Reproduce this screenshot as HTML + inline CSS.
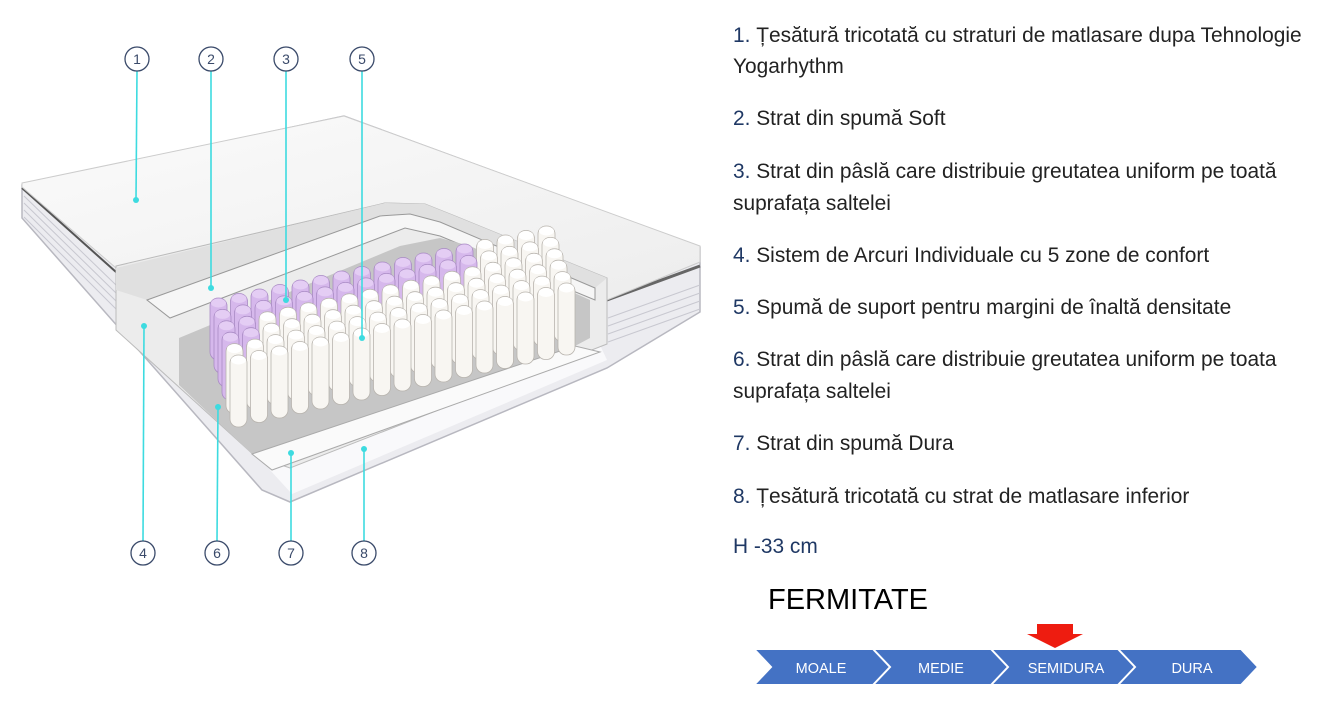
<!DOCTYPE html>
<html><head><meta charset="utf-8">
<style>
html,body{margin:0;padding:0;background:#fff;width:1327px;height:710px;overflow:hidden;position:relative;font-family:"Liberation Sans",sans-serif}
.t{position:absolute;left:733px;font-size:20.9px;color:#222;line-height:32px;white-space:nowrap}
.t b{font-weight:normal;color:#1f3864}
</style></head><body>
<svg width="720" height="600" style="position:absolute;left:0;top:0" id="sv">
<defs>
<linearGradient id="top" x1="0" y1="0" x2="1" y2="1"><stop offset="0" stop-color="#fbfbfb"/><stop offset="1" stop-color="#ededed"/></linearGradient>
</defs>
<polygon points="22,185 344,116 700,247 700,312 607,368 290,502 262,490 22,218" fill="#ececf0" stroke="#b8b8c0" stroke-width="1.5"/>
<polygon points="270,470 600,345 607,360 292,494" fill="#f9f9fb"/>
<g stroke="#c8c8d0" stroke-width="1">
<line x1="24" y1="196" x2="116" y2="285"/><line x1="24" y1="203" x2="116" y2="293"/><line x1="24" y1="210" x2="116" y2="301"/><line x1="24" y1="217" x2="116" y2="309"/>
<line x1="608" y1="318" x2="700" y2="285"/><line x1="608" y1="326" x2="700" y2="293"/><line x1="608" y1="334" x2="700" y2="301"/><line x1="608" y1="342" x2="700" y2="309"/>
</g>
<line x1="22" y1="188" x2="116" y2="272" stroke="#555" stroke-width="2"/>
<line x1="607" y1="300" x2="700" y2="266" stroke="#666" stroke-width="3"/>
<polygon points="22,183 344,116 700,246 700,262 607,300 450,215 420,204 385,203 116,268 22,187" fill="url(#top)" stroke="#ccc"/>
<polygon points="116,266 385,203 425,204 455,216 607,278 607,344 290,468 255,456 116,330" fill="#ececec" stroke="#bbb"/>
<polygon points="116,268 385,203 425,204 455,216 607,278 595,288 440,222 410,214 380,216 147,300 116,290" fill="#e0e0e0"/>
<polygon points="147,300 380,216 410,214 440,222 595,288 595,300 440,236 405,228 170,318" fill="#f6f6f6" stroke="#999" stroke-width="1"/>
<polygon points="179,338 400,246 440,238 470,246 590,300 590,338 575,346 252,454 179,385" fill="#c6c6c6"/>
<polygon points="252,454 575,346 600,352 272,470" fill="#fafafa" stroke="#aaa"/>
<g id="springs"></g>
<g stroke="#3ddbe0" stroke-width="1.6">
<line x1="137" y1="71" x2="136" y2="200"/><line x1="211" y1="71" x2="211" y2="288"/><line x1="286" y1="71" x2="286" y2="300"/><line x1="362" y1="71" x2="362" y2="338"/>
<line x1="144" y1="326" x2="143" y2="541"/><line x1="218" y1="407" x2="217" y2="541"/><line x1="291" y1="453" x2="291" y2="541"/><line x1="364" y1="449" x2="364" y2="541"/>
</g>
<g fill="#3ddbe0"><circle cx="136" cy="200" r="3"/><circle cx="211" cy="288" r="3"/><circle cx="286" cy="300" r="3"/><circle cx="362" cy="338" r="3"/><circle cx="144" cy="326" r="3"/><circle cx="218" cy="407" r="3"/><circle cx="291" cy="453" r="3"/><circle cx="364" cy="449" r="3"/></g>
<g fill="#fff" stroke="#3a4a6a" stroke-width="1.3">
<circle cx="137" cy="59" r="12"/><circle cx="211" cy="59" r="12"/><circle cx="286" cy="59" r="12"/><circle cx="362" cy="59" r="12"/>
<circle cx="143" cy="553" r="12"/><circle cx="217" cy="553" r="12"/><circle cx="291" cy="553" r="12"/><circle cx="364" cy="553" r="12"/>
</g>
<g font-family="Liberation Sans,sans-serif" font-size="14" fill="#3a4a6a" text-anchor="middle">
<text x="137" y="64">1</text><text x="211" y="64">2</text><text x="286" y="64">3</text><text x="362" y="64">5</text>
<text x="143" y="558">4</text><text x="217" y="558">6</text><text x="291" y="558">7</text><text x="364" y="558">8</text>
</g>
</svg>
<script>
(function(){
var g=document.getElementById('springs'),h='';
for(var j=0;j<6;j++){for(var i=16;i>=0;i--){
 var x=210+4*j+i*20.5, y=298+11.4*j-i*4.5;
 if(x>585) continue;
 var purple=(j<2&&i<13)||(i<2&&j<4);
 var f=purple?'#d6b8ec':'#f8f6f2', s=purple?'#a98bc4':'#b8b4ae';
 h+='<rect x="'+x+'" y="'+y+'" width="17" height="'+(62+j*2)+'" rx="8" fill="'+f+'" stroke="'+s+'" stroke-width="0.8"/>';
 h+='<ellipse cx="'+(x+8.5)+'" cy="'+(y+5)+'" rx="7.5" ry="4.5" fill="'+(purple?'#e4cdf4':'#fff')+'"/>';
}}
g.innerHTML=h;
})();
</script>
<div class="t" style="top:20px"><b>1.</b> Țesătură tricotată cu straturi de matlasare dupa Tehnologie</div>
<div class="t" style="top:51px">Yogarhythm</div>
<div class="t" style="top:103px"><b>2.</b> Strat din spumă Soft</div>
<div class="t" style="top:156px"><b>3.</b> Strat din pâslă care distribuie greutatea uniform pe toată</div>
<div class="t" style="top:188px">suprafața saltelei</div>
<div class="t" style="top:240px"><b>4.</b> Sistem de Arcuri Individuale cu 5 zone de confort</div>
<div class="t" style="top:292px"><b>5.</b> Spumă de suport pentru margini de înaltă densitate</div>
<div class="t" style="top:344px"><b>6.</b> Strat din pâslă care distribuie greutatea uniform pe toata</div>
<div class="t" style="top:376px">suprafața saltelei</div>
<div class="t" style="top:428px"><b>7.</b> Strat din spumă Dura</div>
<div class="t" style="top:481px"><b>8.</b> Țesătură tricotată cu strat de matlasare inferior</div>
<div class="t" style="top:531px;color:#1f3864">H -33 cm</div>
<div style="position:absolute;left:768px;top:584px;font-size:29px;color:#000">FERMITATE</div>
<svg width="560" height="80" style="position:absolute;left:740px;top:620px">
<polygon points="297,4 333,4 333,14 343,14 315,28 287,14 297,14" fill="#ee1c10"/>
<g fill="#4472c4" stroke="#fff" stroke-width="2">
<polygon points="14,29 135,29 152,47 135,65 14,65 31,47"/>
<polygon points="133,29 253,29 270,47 253,65 133,65 150,47"/>
<polygon points="251,29 380,29 397,47 380,65 251,65 268,47"/>
<polygon points="378,29 501,29 518,47 501,65 378,65 395,47"/>
</g>
<g font-family="Liberation Sans,sans-serif" font-size="14.5" fill="#fff" text-anchor="middle">
<text x="81" y="53">MOALE</text><text x="201" y="53">MEDIE</text><text x="326" y="53">SEMIDURA</text><text x="452" y="53">DURA</text>
</g>
</svg>
</body></html>
